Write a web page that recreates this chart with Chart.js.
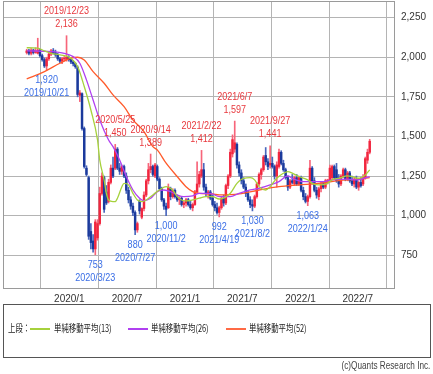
<!DOCTYPE html>
<html>
<head>
<meta charset="utf-8">
<script src="https://cdn.jsdelivr.net/npm/chart.js@4.4.0/dist/chart.umd.min.js"></script>
<style>
  body { margin: 0; background: #fff; }
  #wrap { position: relative; width: 433px; height: 374px; overflow: hidden; }
  #myChart { position: absolute; left: 0; top: 0; }
  #legend {
    position: absolute; left: 3px; top: 304px; width: 428px; height: 54px;
    box-sizing: border-box; border: 1px solid #555;
    font-family: 'Noto Sans CJK JP', sans-serif; font-size: 10px; color: #222;
  }
  #legend span { position: absolute; top: 15px; white-space: nowrap; transform: scaleX(0.74); transform-origin: left center; }
  #legend i { position: absolute; top: 23px; height: 2px; width: 20px; }
  #copy {
    position: absolute; right: 3px; top: 360px;
    font: 10px 'Liberation Sans', sans-serif; color: #444;
    transform: scaleX(0.82); transform-origin: right center;
  }
</style>
</head>
<body>
<div id="wrap">
  <canvas id="myChart" width="433" height="374"></canvas>
  <div id="legend">
    <span style="left:4px">上段：</span>
    <i style="left:26px;background:#a6d13c"></i>
    <span style="left:50px">単純移動平均(13)</span>
    <i style="left:124px;background:#b040f0"></i>
    <span style="left:147px">単純移動平均(26)</span>
    <i style="left:222px;background:#ff6a45"></i>
    <span style="left:245px">単純移動平均(52)</span>
  </div>
  <div id="copy">(c)Quants Research Inc.</div>
</div>
<script>
// weekly candles, first week starts 2019/8/19
const firstWeek = [2019, 8, 19];

const opens = [
  2030, 2040, 2025, 2045, 2030, 2025, 2045, 2010, 1985, 1945,
  1990, 2020, 2040, 2030, 2015, 1990, 1975, 1990, 1985, 2000,
  1985, 1970, 1960, 1935, 1760, 1770, 1550, 1300, 1240, 900,
  840, 790, 860, 950, 1140, 1240, 1150, 1090, 1210, 1300,
  1300, 1420, 1300, 1280, 1310, 1250, 1160, 1100, 1060, 1020,
  910, 1090, 990, 1045, 1130, 1220, 1290, 1310, 1250, 1310,
  1230, 1170, 1100, 1060, 1050, 1170, 1120, 1160, 1120, 1100,
  1110, 1070, 1080, 1100, 1070, 1050, 1070, 1150, 1200, 1250,
  1290, 1180, 1140, 1150, 1110, 1070, 1050, 1020, 1050, 1110,
  1080, 1190, 1250, 1390, 1420, 1450, 1320, 1270, 1220, 1180,
  1140, 1100, 1070, 1060, 1120, 1200, 1260, 1290, 1380, 1340,
  1320, 1330, 1310, 1250, 1310, 1400, 1330, 1290, 1240, 1180,
  1220, 1200, 1240, 1200, 1240, 1160, 1120, 1090, 1120, 1300,
  1220, 1160, 1120, 1170, 1200, 1180, 1220, 1225, 1240, 1310,
  1290, 1230, 1200, 1250, 1290, 1230, 1270, 1220, 1200, 1230,
  1180, 1210, 1200, 1240, 1350, 1400
];
const highs = [
  2050, 2050, 2055, 2050, 2060, 2120, 2050, 2020, 1995, 2000,
  2030, 2050, 2055, 2045, 2025, 2000, 2000, 2005, 2136, 2010,
  1995, 1980, 1965, 1945, 1790, 1775, 1560, 1315, 1250, 950,
  880, 975, 975, 1180, 1270, 1250, 1190, 1230, 1320, 1370,
  1450, 1430, 1330, 1320, 1320, 1270, 1180, 1120, 1080, 1030,
  960, 1100, 1050, 1150, 1230, 1330, 1389, 1320, 1330, 1320,
  1240, 1180, 1110, 1080, 1200, 1180, 1170, 1170, 1130, 1120,
  1120, 1090, 1110, 1110, 1090, 1080, 1160, 1340, 1280, 1412,
  1330, 1200, 1160, 1160, 1130, 1090, 1080, 1060, 1120, 1130,
  1200, 1260, 1420, 1510, 1597, 1460, 1340, 1290, 1240, 1200,
  1160, 1120, 1100, 1130, 1210, 1270, 1300, 1380, 1430, 1360,
  1441, 1370, 1320, 1340, 1420, 1410, 1350, 1300, 1250, 1230,
  1260, 1250, 1260, 1250, 1250, 1180, 1140, 1130, 1350, 1310,
  1240, 1180, 1180, 1210, 1210, 1230, 1230, 1320, 1320, 1320,
  1330, 1260, 1260, 1300, 1300, 1280, 1280, 1250, 1240, 1250,
  1220, 1240, 1260, 1370, 1420, 1482
];
const lows = [
  2020, 2015, 2015, 2020, 2025, 2020, 2000, 1975, 1935, 1920,
  1980, 2010, 2020, 2005, 1980, 1965, 1960, 1975, 1975, 1975,
  1960, 1945, 1930, 1750, 1720, 1540, 1300, 1250, 850, 790,
  770, 753, 845, 940, 1130, 1020, 1070, 1080, 1200, 1240,
  1290, 1290, 1260, 1260, 1240, 1140, 1080, 1040, 1000, 880,
  895, 1010, 980, 1030, 1120, 1200, 1270, 1250, 1240, 1220,
  1160, 1090, 1040, 1000, 1045, 1100, 1110, 1110, 1090, 1070,
  1060, 1050, 1060, 1060, 1040, 1030, 1065, 1140, 1180, 1240,
  1160, 1120, 1110, 1100, 1060, 1030, 1010, 992, 1040, 1060,
  1070, 1170, 1240, 1370, 1400, 1300, 1250, 1200, 1170, 1120,
  1090, 1050, 1030, 1050, 1110, 1190, 1230, 1280, 1320, 1290,
  1300, 1300, 1230, 1180, 1300, 1320, 1280, 1230, 1160, 1170,
  1200, 1190, 1190, 1190, 1150, 1100, 1080, 1063, 1110, 1200,
  1150, 1110, 1100, 1150, 1170, 1170, 1200, 1220, 1230, 1230,
  1210, 1180, 1190, 1240, 1220, 1220, 1210, 1190, 1180, 1170,
  1160, 1180, 1190, 1230, 1330, 1390
];
const closes = [
  2040, 2025, 2045, 2030, 2040, 2045, 2010, 1985, 1945, 1990,
  2020, 2040, 2030, 2015, 1990, 1975, 1990, 1995, 2000, 1985,
  1970, 1960, 1940, 1765, 1775, 1550, 1310, 1260, 870, 830,
  790, 960, 950, 1140, 1250, 1040, 1080, 1210, 1300, 1250,
  1420, 1300, 1280, 1310, 1250, 1160, 1100, 1060, 1020, 910,
  950, 1030, 1045, 1130, 1220, 1290, 1310, 1260, 1320, 1230,
  1170, 1100, 1060, 1040, 1180, 1120, 1160, 1120, 1100, 1110,
  1070, 1080, 1100, 1070, 1050, 1070, 1150, 1200, 1260, 1290,
  1180, 1140, 1150, 1110, 1070, 1050, 1020, 1050, 1110, 1080,
  1190, 1250, 1400, 1480, 1460, 1320, 1270, 1220, 1180, 1140,
  1100, 1070, 1060, 1120, 1200, 1260, 1290, 1370, 1340, 1310,
  1330, 1310, 1250, 1320, 1400, 1330, 1290, 1240, 1180, 1220,
  1210, 1240, 1200, 1240, 1160, 1120, 1090, 1120, 1300, 1220,
  1160, 1130, 1170, 1200, 1180, 1220, 1225, 1300, 1310, 1240,
  1220, 1200, 1250, 1290, 1230, 1270, 1220, 1200, 1230, 1180,
  1210, 1190, 1240, 1360, 1400, 1470
];

// moving averages (week index, price)
const ma13Weeks = [0, 5, 8, 11, 15, 20, 23, 26, 29, 32, 33, 35, 36, 37, 39, 40, 41, 43, 44, 46, 48, 50, 52, 54, 57, 60, 63, 66, 68, 70, 72, 75, 78, 81, 84, 87, 92, 95, 98, 101, 103, 105, 108, 110, 113, 116, 118, 120, 123, 127, 129, 132, 136, 138, 141, 145, 147, 150, 153, 155];
const ma13Values = [2060, 2058, 2040, 2025, 2015, 1994, 1941, 1815, 1667, 1478, 1352, 1225, 1141, 1099, 1089, 1089, 1110, 1183, 1204, 1194, 1141, 1099, 1089, 1099, 1131, 1162, 1183, 1162, 1120, 1099, 1093, 1099, 1110, 1120, 1120, 1105, 1141, 1204, 1236, 1240, 1226, 1183, 1162, 1183, 1236, 1268, 1278, 1268, 1247, 1226, 1204, 1194, 1204, 1226, 1236, 1251, 1247, 1236, 1257, 1289];

const ma26Weeks = [0, 11, 17, 21, 24, 27, 30, 33, 37, 39, 42, 45, 48, 51, 53, 56, 59, 62, 65, 68, 71, 75, 78, 83, 87, 92, 96, 101, 105, 110, 114, 118, 120, 125, 129, 134, 138, 145, 149, 155];
const ma26Values = [2040, 2036, 2025, 2004, 1962, 1857, 1730, 1604, 1478, 1436, 1352, 1247, 1162, 1110, 1095, 1110, 1152, 1162, 1152, 1131, 1120, 1125, 1141, 1141, 1120, 1120, 1141, 1162, 1173, 1194, 1215, 1251, 1236, 1215, 1215, 1215, 1226, 1230, 1226, 1247];

const ma52Weeks = [0, 8, 15, 20, 23, 26, 30, 35, 39, 44, 48, 53, 57, 59, 63, 68, 72, 75, 78, 84, 87, 96, 105, 114, 123, 132, 141, 150, 155];
const ma52Values = [1863, 1909, 1962, 1994, 2000, 1983, 1909, 1836, 1762, 1688, 1604, 1531, 1436, 1415, 1331, 1247, 1183, 1152, 1141, 1137, 1131, 1137, 1162, 1183, 1194, 1204, 1221, 1230, 1240];

// marked highs and lows
const highWeeks = [18, 40, 56, 79, 94, 110];
const highDates = ['2019/12/23', '2020/5/25', '2020/9/14', '2021/2/22', '2021/6/7', '2021/9/27'];
const lowWeeks = [9, 31, 49, 63, 87, 102, 127];
const lowDates = ['2019/10/21', '2020/3/23', '2020/7/27', '2020/11/2', '2021/4/19', '2021/8/2', '2022/1/24'];

const xTickDates = [[2020, 1, 1], [2020, 7, 1], [2021, 1, 1], [2021, 7, 1], [2022, 1, 1], [2022, 7, 1]];
const xTickLabels = ['2020/1', '2020/7', '2021/1', '2021/7', '2022/1', '2022/7'];
const yTicks = [750, 1000, 1250, 1500, 1750, 2000, 2250];

const RED = '#f2263e';
const BLUE = '#1b3a9c';

function dayOf(y, m, d) {
  return Date.UTC(y, m - 1, d) / 86400000;
}
const day0 = dayOf(firstWeek[0], firstWeek[1], firstWeek[2]);
function weekDay(w) {
  return day0 + 7 * w;
}
const xTickDays = xTickDates.map(d => dayOf(d[0], d[1], d[2]));

const candleColors = opens.map((o, i) => closes[i] >= o ? RED : BLUE);
const wickColors = opens.map((o, i) => closes[i] >= o ? '#f7657a' : '#4a67bd');

// narrow text: draw Liberation Sans squeezed horizontally
function narrowText(ctx, text, x, y, sx) {
  ctx.save();
  ctx.translate(x, y);
  ctx.scale(sx, 1);
  ctx.fillText(text, 0, 0);
  ctx.restore();
}

const extremaLabels = {
  id: 'extremaLabels',
  afterDatasetsDraw(chart) {
    const { ctx, scales: { x, y } } = chart;
    ctx.save();
    ctx.font = "11px 'Liberation Sans', sans-serif";
    ctx.textAlign = 'center';
    ctx.fillStyle = '#e8383d';
    ctx.textBaseline = 'bottom';
    highWeeks.forEach((w, k) => {
      const px = x.getPixelForValue(weekDay(w));
      const py = y.getPixelForValue(highs[w]);
      narrowText(ctx, highs[w].toLocaleString('en-US'), px, py - 6, 0.82);
      narrowText(ctx, highDates[k], px, py - 19, 0.82);
    });
    ctx.fillStyle = '#3a6ee6';
    ctx.textBaseline = 'top';
    lowWeeks.forEach((w, k) => {
      const px = x.getPixelForValue(weekDay(w));
      const py = y.getPixelForValue(lows[w]);
      narrowText(ctx, lows[w].toLocaleString('en-US'), px, py + 5, 0.82);
      narrowText(ctx, lowDates[k], px, py + 18, 0.82);
    });
    ctx.restore();
  }
};

const frame = {
  id: 'frame',
  afterDraw(chart) {
    const { ctx, chartArea: a } = chart;
    ctx.save();
    ctx.strokeStyle = '#9a9a9a';
    ctx.lineWidth = 1;
    ctx.strokeRect(a.left + 0.5, a.top + 0.5, a.right - a.left - 1, a.bottom - a.top - 1);
    ctx.restore();
  }
};

const tickFont = { family: "'Liberation Sans', sans-serif", size: 10 };

const data = {
  datasets: [
    {
      type: 'line', label: '単純移動平均(13)', order: 0,
      data: ma13Weeks.map((w, i) => ({ x: weekDay(w), y: ma13Values[i] })),
      borderColor: '#a6d13c', borderWidth: 1.3, pointRadius: 0, cubicInterpolationMode: 'monotone'
    },
    {
      type: 'line', label: '単純移動平均(26)', order: 0,
      data: ma26Weeks.map((w, i) => ({ x: weekDay(w), y: ma26Values[i] })),
      borderColor: '#b040f0', borderWidth: 1.3, pointRadius: 0, cubicInterpolationMode: 'monotone'
    },
    {
      type: 'line', label: '単純移動平均(52)', order: 0,
      data: ma52Weeks.map((w, i) => ({ x: weekDay(w), y: ma52Values[i] })),
      borderColor: '#ff5a2a', borderWidth: 1.3, pointRadius: 0, cubicInterpolationMode: 'monotone'
    },
    {
      type: 'bar', label: 'wick', order: 2, grouped: false,
      data: opens.map((o, i) => ({ x: weekDay(i), y: [lows[i], highs[i]] })),
      backgroundColor: wickColors, barThickness: 1, borderWidth: 0
    },
    {
      type: 'bar', label: 'body', order: 1, grouped: false,
      data: opens.map((o, i) => ({ x: weekDay(i), y: [o, closes[i] === o ? o + 3 : closes[i]] })),
      backgroundColor: candleColors, barThickness: 1.8, borderWidth: 0
    }
  ]
};

const config = {
  type: 'bar',
  data: data,
  plugins: [extremaLabels, frame],
  options: {
    responsive: false,
    animation: false,
    layout: { padding: { left: 3, top: 1, right: 0, bottom: 69 } },
    plugins: {
      legend: { display: false },
      tooltip: { enabled: false }
    },
    scales: {
      x: {
        type: 'linear',
        offset: false,
        min: dayOf(2019, 6, 5),
        max: dayOf(2022, 10, 27),
        afterBuildTicks: (scale) => { scale.ticks = xTickDays.map(v => ({ value: v })); },
        afterFit: (scale) => { scale.height = 16; scale.paddingLeft = 0; scale.paddingRight = 0; },
        grid: { color: '#b4b4b4', lineWidth: 1, drawTicks: false },
        border: { display: false },
        ticks: {
          autoSkip: false, maxRotation: 0, padding: 4,
          color: '#333', font: tickFont,
          callback: (v, i) => xTickLabels[i]
        }
      },
      y: {
        position: 'right',
        min: 537,
        max: 2355,
        afterBuildTicks: (scale) => { scale.ticks = yTicks.map(v => ({ value: v })); },
        afterFit: (scale) => { scale.width = 38; scale.paddingTop = 0; scale.paddingBottom = 0; },
        grid: { color: '#b4b4b4', lineWidth: 1, drawTicks: false },
        border: { display: false },
        ticks: {
          padding: 6,
          color: '#333', font: tickFont,
          callback: (v) => v.toLocaleString('en-US')
        }
      }
    }
  }
};

window.myChart = new Chart(document.getElementById('myChart'), config);
</script>
</body>
</html>
